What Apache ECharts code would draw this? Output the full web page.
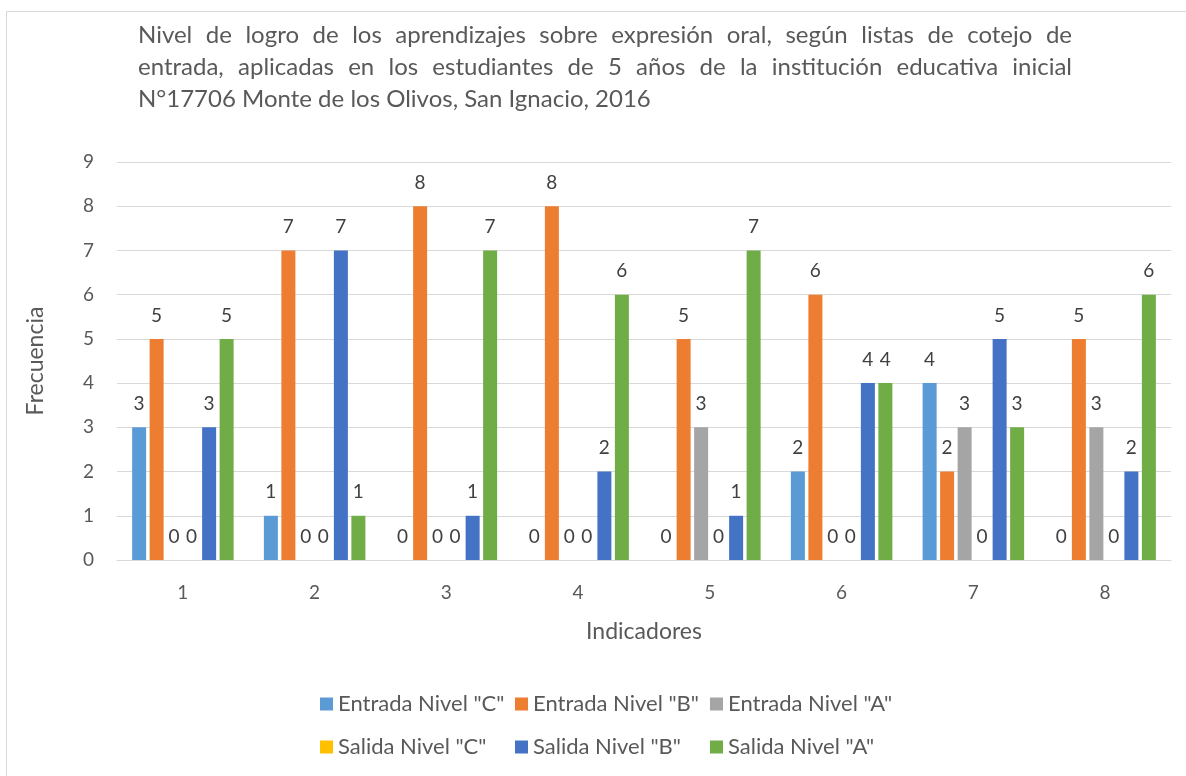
<!DOCTYPE html>
<html>
<head>
<meta charset="utf-8">
<script src="https://cdn.jsdelivr.net/npm/echarts@6/dist/echarts.min.js"></script>
<style>
  html, body { margin: 0; padding: 0; background: #fff; }
  #chart { width: 1186px; height: 776px; }
</style>
</head>
<body>
<div id="chart"></div>
<script>
var categories = ['1', '2', '3', '4', '5', '6', '7', '8']
var seriesNames = ['Entrada Nivel "C"', 'Entrada Nivel "B"', 'Entrada Nivel "A"',
  'Salida Nivel "C"', 'Salida Nivel "B"', 'Salida Nivel "A"']
var entradaC = [3, 1, 0, 0, 0, 2, 4, 0]
var entradaB = [5, 7, 8, 8, 5, 6, 2, 5]
var entradaA = [0, 0, 0, 0, 3, 0, 3, 3]
var salidaC = [0, 0, 0, 0, 0, 0, 0, 0]
var salidaB = [3, 7, 1, 2, 1, 4, 5, 2]
var salidaA = [5, 1, 7, 6, 7, 4, 3, 6]
var colors = ['#5b9bd5', '#ed7d31', '#a5a5a5', '#ffc000', '#4472c4', '#70ad47']

var titleLines = [
  'Nivel de logro de los aprendizajes sobre expresión oral, según listas de cotejo de',
  'entrada, aplicadas en los estudiantes de 5 años de la institución educativa inicial',
  'N°17706 Monte de los Olivos, San Ignacio, 2016'
]

var FONT = 'Lato'
var TXT = '#595959'
var TITLE_FONT = '24px ' + FONT

// justified title like the Word/Excel original
function titleGraphics () {
  var ctx = document.createElement('canvas').getContext('2d')
  ctx.font = TITLE_FONT
  var x0 = 138, x1 = 1072, out = []
  titleLines.forEach(function (line, i) {
    var y = 35 + i * 32
    var words = line.split(' ')
    var last = i === titleLines.length - 1
    var widths = words.map(function (w) { return ctx.measureText(w).width })
    var total = widths.reduce(function (a, b) { return a + b }, 0)
    var gap = last ? ctx.measureText(' ').width : (x1 - x0 - total) / (words.length - 1)
    var x = x0
    words.forEach(function (w, j) {
      out.push({
        type: 'text', x: x, y: y,
        style: { text: w, font: TITLE_FONT, fill: TXT, textVerticalAlign: 'middle' }
      })
      x += widths[j] + gap
    })
  })
  return out
}

var allData = [entradaC, entradaB, entradaA, salidaC, salidaB, salidaA]

var chart = echarts.init(document.getElementById('chart'))

var graphics = titleGraphics()
graphics.unshift({
  type: 'rect',
  shape: { x: 6.5, y: 11.5, width: 1200, height: 800 },
  style: { fill: 'none', stroke: '#d9d9d9', lineWidth: 1 },
  silent: true
})

chart.setOption({
  animation: false,
  textStyle: { fontFamily: FONT },
  graphic: graphics,
  grid: { left: 117, right: 15, top: 162, bottom: 216 },
  legend: {
    data: seriesNames,
    left: 315,
    top: 681,
    width: 600,
    itemWidth: 13,
    itemHeight: 13,
    itemGap: 7,
    icon: 'rect',
    textStyle: { color: TXT, fontSize: 22, width: 170, lineHeight: 36 }
  },
  xAxis: {
    type: 'category',
    data: categories,
    name: 'Indicadores',
    nameLocation: 'middle',
    nameGap: 60,
    nameTextStyle: { color: TXT, fontSize: 23 },
    axisLine: { lineStyle: { color: '#d9d9d9' } },
    axisTick: { show: false },
    axisLabel: { color: TXT, fontSize: 19, margin: 23 }
  },
  yAxis: {
    type: 'value',
    min: 0,
    max: 9,
    interval: 1,
    name: 'Frecuencia',
    nameLocation: 'middle',
    nameGap: 70,
    nameTextStyle: { color: TXT, fontSize: 23 },
    axisLabel: { color: TXT, fontSize: 19, margin: 23 },
    splitLine: { lineStyle: { color: '#d9d9d9' } }
  },
  series: allData.map(function (d, i) {
    return {
      name: seriesNames[i],
      type: 'bar',
      data: d,
      barWidth: 14,
      barGap: '25%',
      itemStyle: { color: colors[i] },
      label: { show: true, position: 'top', distance: 14, color: '#404040', fontSize: 19 }
    }
  })
})
</script>
</body>
</html>
